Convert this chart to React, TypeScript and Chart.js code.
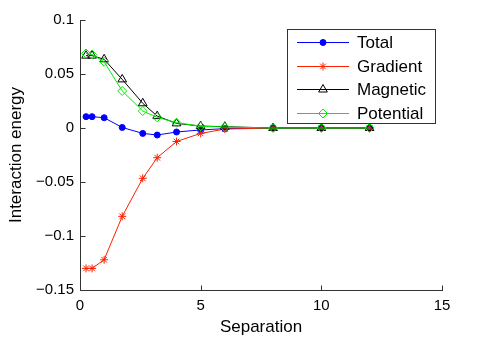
import React, { useEffect, useRef } from 'react';
import { Chart, registerables } from 'chart.js';
import { drawPoint } from 'chart.js/helpers';

Chart.register(...registerables);

const separation = [0.25, 0.5, 1, 1.75, 2.6, 3.2, 4, 5, 6, 8, 10, 12];
const total = [0.0105, 0.0105, 0.0095, 0.0005, -0.005, -0.0065, -0.0037, -0.0018, -0.0006, 0, 0, 0];
const gradient = [-0.13, -0.13, -0.122, -0.0818, -0.0466, -0.0275, -0.0125, -0.005, -0.001, 0, 0, 0];
const magnetic = [0.067, 0.067, 0.0636, 0.045, 0.0229, 0.011, 0.0043, 0.0018, 0.0012, 0, 0, 0];
const potential = [0.069, 0.068, 0.0614, 0.0343, 0.0157, 0.0099, 0.0049, 0.0016, 0.0009, 0, 0, 0];

const seriesNames = ['Total', 'Gradient', 'Magnetic', 'Potential'];
const xTicks = [0, 5, 10, 15];
const xTickLabels = ['0', '5', '10', '15'];
const yTicks = [-0.15, -0.1, -0.05, 0, 0.05, 0.1];
const yTickLabels = ['\u22120.15', '\u22120.1', '\u22120.05', '0', '0.05', '0.1'];

const FONT = '"Liberation Sans", Arial, Helvetica, sans-serif';

const styles = [
  { color: '#0000ff', pointStyle: 'circle', radius: 3, fill: '#0000ff' },
  { color: '#ff2000', pointStyle: 'star', radius: 4, fill: '#ff2000' },
  { color: '#000000', pointStyle: 'triangle', radius: 5, fill: 'rgba(0,0,0,0)' },
  { color: '#00ee00', pointStyle: 'rectRot', radius: 4.5, fill: 'rgba(0,0,0,0)' },
];

const axesPlugin = {
  id: 'matlabAxes',
  afterDraw(chart: any) {
    const { ctx, chartArea, scales } = chart;
    const L = Math.round(chartArea.left) + 0.5;
    const B = Math.round(chartArea.bottom) + 0.5;
    ctx.save();
    ctx.strokeStyle = '#333';
    ctx.lineWidth = 1;
    ctx.beginPath();
    ctx.moveTo(L, Math.round(chartArea.top));
    ctx.lineTo(L, B);
    ctx.lineTo(Math.round(chartArea.right) + 1, B);
    for (const v of xTicks) {
      const x = Math.round(scales.x.getPixelForValue(v)) + 0.5;
      ctx.moveTo(x, B);
      ctx.lineTo(x, B - 5);
    }
    for (const v of yTicks) {
      const y = Math.round(scales.y.getPixelForValue(v)) + 0.5;
      ctx.moveTo(L, y);
      ctx.lineTo(L + 5, y);
    }
    ctx.stroke();
    ctx.restore();
  },
};

const legendPlugin = {
  id: 'matlabLegend',
  afterDraw(chart: any) {
    const { ctx } = chart;
    const bx = 287.5, by = 29.5, bw = 148, bh = 94;
    const rowY = [42, 66, 89, 113];
    ctx.save();
    ctx.fillStyle = '#ffffff';
    ctx.fillRect(bx, by, bw, bh);
    ctx.strokeStyle = '#333';
    ctx.lineWidth = 1;
    ctx.strokeRect(bx, by, bw, bh);
    ctx.font = `17px ${FONT}`;
    ctx.textBaseline = 'middle';
    ctx.textAlign = 'left';
    seriesNames.forEach((name, i) => {
      const st = styles[i];
      const y = rowY[i] + 0.5;
      ctx.strokeStyle = st.color;
      ctx.lineWidth = 1;
      ctx.beginPath();
      ctx.moveTo(297, y);
      ctx.lineTo(349, y);
      ctx.stroke();
      ctx.fillStyle = st.fill;
      ctx.strokeStyle = st.color;
      drawPoint(ctx, { pointStyle: st.pointStyle, radius: st.radius, rotation: 0, borderWidth: 1 } as any, 323, y);
      ctx.fillStyle = '#000';
      ctx.fillText(name, 357, rowY[i] + 1);
    });
    ctx.restore();
  },
};

export default function App() {
  const ref = useRef<HTMLCanvasElement | null>(null);
  useEffect(() => {
    document.body.style.margin = '0';
    const seriesValues = [total, gradient, magnetic, potential];
    const chart = new Chart(ref.current as HTMLCanvasElement, {
      type: 'scatter',
      data: {
        datasets: seriesValues.map((vals, i) => ({
          label: seriesNames[i],
          data: separation.map((x, j) => ({ x, y: vals[j] })),
          showLine: true,
          borderColor: styles[i].color,
          borderWidth: 1,
          backgroundColor: styles[i].fill,
          pointStyle: styles[i].pointStyle as any,
          pointRadius: styles[i].radius,
          pointBorderColor: styles[i].color,
          pointBackgroundColor: styles[i].fill,
          pointBorderWidth: 1,
          order: 3 - i,
        })),
      },
      options: {
        animation: false,
        responsive: false,
        devicePixelRatio: 1,
        layout: { padding: { top: 20, right: 49, left: 0, bottom: 0 } },
        plugins: { legend: { display: false }, tooltip: { enabled: false } },
        scales: {
          x: {
            type: 'linear',
            min: 0,
            max: 15,
            grid: { display: false, drawTicks: false },
            border: { display: false },
            afterBuildTicks: (s: any) => { s.ticks = xTicks.map((v) => ({ value: v })); },
            afterFit: (s: any) => { s.height = 57; },
            ticks: {
              padding: 7,
              color: '#000',
              font: { family: FONT, size: 15 },
              callback: (_v: any, i: number) => xTickLabels[i],
            },
            title: {
              display: true,
              text: 'Separation',
              color: '#000',
              font: { family: FONT, size: 17 },
              padding: { top: 0, bottom: 9 },
            },
          },
          y: {
            type: 'linear',
            min: -0.15,
            max: 0.1,
            grid: { display: false, drawTicks: false },
            border: { display: false },
            afterBuildTicks: (s: any) => { s.ticks = yTicks.map((v) => ({ value: v })); },
            afterFit: (s: any) => { s.width = 80; },
            ticks: {
              padding: 6,
              color: '#000',
              font: { family: FONT, size: 15 },
              callback: (_v: any, i: number) => yTickLabels[i],
            },
            title: {
              display: true,
              text: 'Interaction energy',
              color: '#000',
              font: { family: FONT, size: 17 },
              padding: { top: 6, bottom: 0 },
            },
          },
        },
      },
      plugins: [axesPlugin, legendPlugin],
    });
    return () => chart.destroy();
  }, []);
  return (
    <div style={{ width: 491, height: 347 }}>
      <canvas ref={ref} width={491} height={347} style={{ display: 'block' }} />
    </div>
  );
}
